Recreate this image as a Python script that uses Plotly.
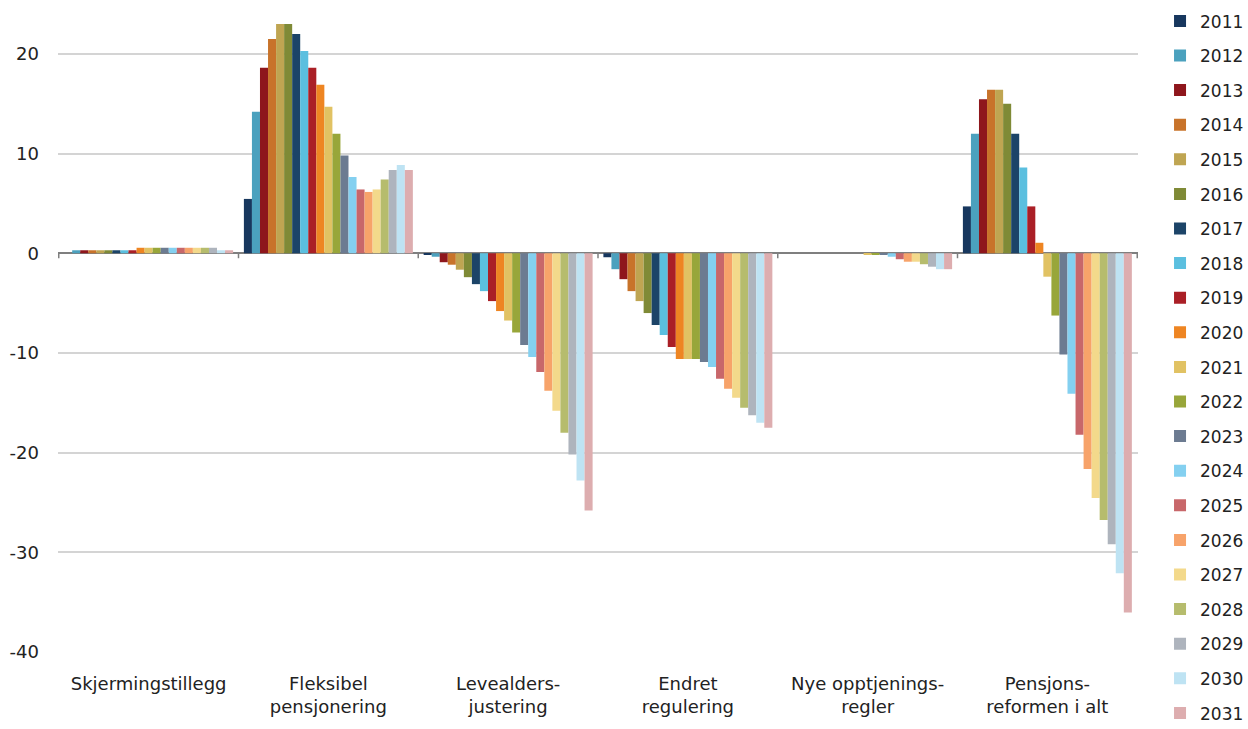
import plotly.graph_objects as go

categories = ["Skjermingstillegg", "Fleksibel<br>pensjonering", "Levealders-<br>justering",
              "Endret<br>regulering", "Nye opptjenings-<br>regler", "Pensjons-<br>reformen i alt"]
years = [str(y) for y in range(2011, 2032)]
ytick_vals = [-40, -30, -20, -10, 0, 10, 20]
ytick_text = ["-40", "-30", "-20", "-10", "0", "10", "20"]

# values per category, one entry per year 2011..2031
skjerming = [0, 0.3, 0.3, 0.3, 0.3, 0.3, 0.3, 0.3, 0.3, 0.55, 0.55, 0.55, 0.55, 0.55, 0.55, 0.55, 0.55, 0.55, 0.55, 0.3, 0.3]
fleksibel = [5.45, 14.2, 18.6, 21.5, 23.0, 23.0, 22.0, 20.3, 18.6, 16.9, 14.7, 12.0, 9.8, 7.65, 6.4, 6.15, 6.4, 7.4, 8.35, 8.85, 8.35]
levealder = [-0.1, -0.35, -0.9, -1.15, -1.65, -2.4, -3.1, -3.8, -4.8, -5.8, -6.75, -7.95, -9.2, -10.4, -11.9, -13.8, -15.8, -18.0, -20.2, -22.8, -25.8]
regulering = [-0.4, -1.6, -2.6, -3.8, -4.8, -6.0, -7.2, -8.2, -9.4, -10.6, -10.6, -10.6, -10.9, -11.4, -12.6, -13.6, -14.5, -15.5, -16.25, -17.0, -17.5]
opptjening = [0, 0, 0, 0, 0, 0, 0, 0, 0, 0, -0.15, -0.15, -0.15, -0.35, -0.6, -0.85, -0.85, -1.1, -1.35, -1.6, -1.6]
reform = [4.7, 12.0, 15.45, 16.4, 16.4, 15.0, 12.0, 8.6, 4.7, 1.05, -2.35, -6.25, -10.15, -14.1, -18.2, -21.65, -24.55, -26.75, -29.2, -32.1, -36.05]

colors = ["#17375E", "#4BA1BE", "#8E161C", "#C8732A", "#BFA552", "#7F8A36", "#1C4468",
          "#5BBFDF", "#AA1F26", "#EE8522", "#E1C263", "#98A63A", "#6C7B91", "#84D0F0",
          "#C8676A", "#F7A36A", "#F3D98B", "#B6BC6D", "#AEB4BD", "#BEE3F3", "#DDADAF"]

series = [skjerming, fleksibel, levealder, regulering, opptjening, reform]

fig = go.Figure()
for i, yr in enumerate(years):
    fig.add_trace(go.Bar(
        x=categories,
        y=[s[i] for s in series],
        name=yr,
        legendgroup=yr,
        marker=dict(color=colors[i], line=dict(width=0)),
    ))

font = "DejaVu Sans, Verdana, sans-serif"
fig.update_layout(
    barmode="group",
    bargap=0.06,
    bargroupgap=0,
    width=1248, height=729,
    margin=dict(l=58, r=110, t=14, b=77, autoexpand=False),
    plot_bgcolor="white",
    paper_bgcolor="white",
    font=dict(family=font, size=18, color="#222222"),
    showlegend=True,
    legend=dict(x=1.0204, xanchor="left", y=1.0167, yanchor="top",
                font=dict(size=17, color="#222222"),
                tracegroupgap=9.5, maxheight=900, bgcolor="rgba(0,0,0,0)"),
    xaxis=dict(showgrid=False, showline=False, ticks="", ticklabelstandoff=19,
               tickfont=dict(size=18, color="#222222")),
    yaxis=dict(range=[-40, 24], tickvals=ytick_vals, ticktext=ytick_text,
               showgrid=True, gridcolor="#D4D4D4", gridwidth=1.5,
               zeroline=True, zerolinecolor="#7F7F7F", zerolinewidth=2,
               showline=False, ticks="", ticklabelstandoff=18,
               tickfont=dict(size=18, color="#222222")),
)

# tick marks on the zero line at category boundaries
for k in range(len(categories) + 1):
    fig.add_shape(type="line", xref="x", yref="y", x0=k - 0.5, x1=k - 0.5, y0=0, y1=-0.5,
                  line=dict(color="#7F7F7F", width=1.5))

fig.write_html("out.html")
